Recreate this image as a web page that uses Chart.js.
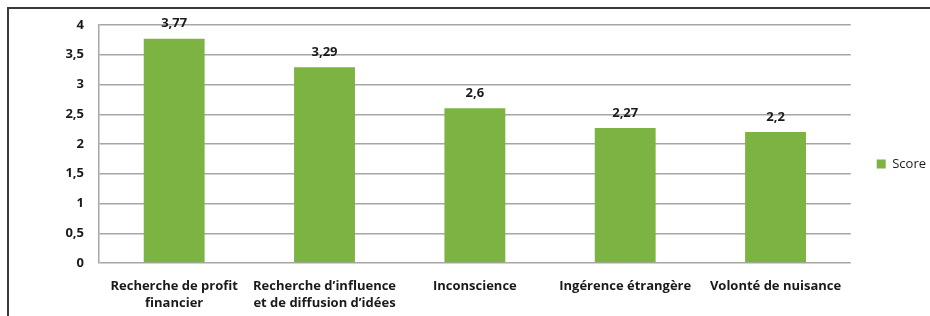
<!DOCTYPE html>
<html>
<head>
<meta charset="utf-8">
<script src="https://cdn.jsdelivr.net/npm/chart.js@4"></script>
<style>
  html, body { margin: 0; padding: 0; background: #fff; }
  .frame {
    position: absolute; left: 7px; top: 7px; width: 1000px; height: 400px;
    border-top: 2px solid #3a3a3a; border-left: 2px solid #3a3a3a;
  }
  .wrap { position: absolute; left: 0; top: 0; width: 930px; height: 316px; }
  canvas { display: block; }
</style>
</head>
<body>
<div class="frame"></div>
<div class="wrap"><canvas id="scoreChart" width="930" height="316"></canvas></div>
<script>
const categories = [
  ["Recherche de profit", "financier"],
  ["Recherche d\u2019influence", "et de diffusion d\u2019id\u00e9es"],
  "Inconscience",
  "Ing\u00e9rence \u00e9trang\u00e8re",
  "Volont\u00e9 de nuisance"
];
const scores = [3.77, 3.29, 2.6, 2.27, 2.2];
const seriesName = "Score";

const FONT = "'Open Sans', 'Liberation Sans', sans-serif";
const fmt = v => String(v).replace(".", ",");

// value labels above each bar
const barLabels = {
  id: "barLabels",
  afterDatasetsDraw(chart) {
    const ctx = chart.ctx;
    const meta = chart.getDatasetMeta(0);
    ctx.save();
    ctx.font = "bold 13px " + FONT;
    ctx.fillStyle = "#1a1a1a";
    ctx.textAlign = "center";
    ctx.textBaseline = "middle";
    meta.data.forEach((bar, i) => {
      ctx.fillText(fmt(scores[i]), bar.x, bar.y - 15);
    });
    ctx.restore();
  }
};

new Chart(document.getElementById("scoreChart").getContext("2d"), {
  type: "bar",
  data: {
    labels: categories,
    datasets: [{
      label: seriesName,
      data: scores,
      backgroundColor: "#7db343",
      borderWidth: 0,
      barPercentage: 0.81,
      categoryPercentage: 0.5
    }]
  },
  options: {
    responsive: false,
    animation: false,
    locale: "fr-FR",
    layout: { padding: { top: 12, bottom: 0, left: 0, right: -6 } },
    plugins: {
      legend: {
        position: "right",
        labels: {
          boxWidth: 9, boxHeight: 9, padding: 26,
          color: "#1a1a1a",
          font: { family: FONT, size: 13 }
        }
      },
      tooltip: { enabled: false }
    },
    scales: {
      x: {
        grid: { display: false },
        border: { display: false },
        ticks: {
          autoSkip: false, maxRotation: 0, padding: 7,
          color: "#1a1a1a",
          font: { family: FONT, size: 13, weight: "bold", lineHeight: 1.3 }
        },
        afterFit(scale) { scale.height = 53; }
      },
      // empty spacer on top so the plot starts lower than the legend box
      xTop: {
        position: "top",
        grid: { display: false },
        border: { display: false },
        ticks: { display: false },
        afterFit(scale) { scale.height = 13; }
      },
      y: {
        min: 0, max: 4,
        grid: { color: "#a6a6a6", lineWidth: 1.5, drawTicks: false },
        border: { display: true, color: "#a6a6a6", width: 1.5 },
        ticks: {
          stepSize: 0.5, padding: 15,
          color: "#1a1a1a",
          font: { family: FONT, size: 13, weight: "bold" },
          callback: v => fmt(v)
        },
        afterFit(scale) { scale.width = 99; }
      }
    }
  },
  plugins: [barLabels]
});
</script>
</body>
</html>
